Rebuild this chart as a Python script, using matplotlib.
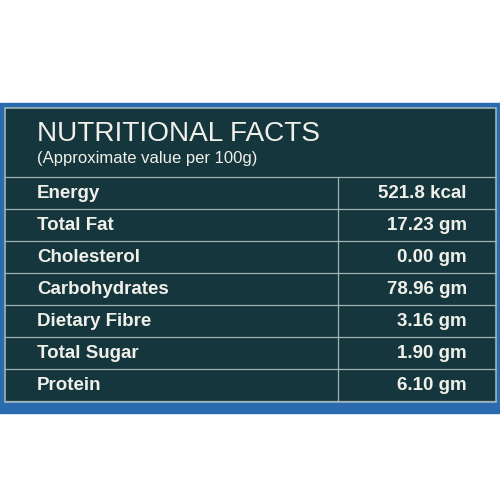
import matplotlib.pyplot as plt
from matplotlib.patches import Rectangle

plt.rcParams["font.family"] = ["Liberation Sans", "DejaVu Sans"]

TITLE = "NUTRITIONAL FACTS"
SUBTITLE = "(Approximate value per 100g)"
NUTRIENTS = ["Energy", "Total Fat", "Cholesterol", "Carbohydrates",
             "Dietary Fibre", "Total Sugar", "Protein"]
VALUES = ["521.8 kcal", "17.23 gm", "0.00 gm", "78.96 gm",
          "3.16 gm", "1.90 gm", "6.10 gm"]

BLUE = "#2a6bb0"
PANEL = "#15363c"
LINE = "#9fb4b4"
TEXT = "#f0f0ea"

fig = plt.figure(figsize=(5, 5), dpi=100)
ax = fig.add_axes([0, 0, 1, 1])
ax.set_xlim(0, 500)
ax.set_ylim(500, 0)
ax.axis("off")

ax.add_patch(Rectangle((0, 103), 500, 310, color=BLUE, zorder=0))
ax.add_patch(Rectangle((5, 108), 491, 294, facecolor=PANEL,
                       edgecolor=LINE, lw=1.2, zorder=1))

ax.text(37, 134, TITLE, color=TEXT, fontsize=20.2, va="center", ha="left")
ax.text(37, 158, SUBTITLE, color=TEXT, fontsize=12, va="center", ha="left")

top, step = 177, 32
for i in range(len(NUTRIENTS) + 1):
    y = top + i * step
    ax.plot([5, 496], [y, y], color=LINE, lw=0.9, zorder=2)
ax.plot([338, 338], [top, top + step * len(NUTRIENTS)], color=LINE, lw=0.9, zorder=2)

for i, (name, val) in enumerate(zip(NUTRIENTS, VALUES)):
    yc = top + step * (i + 0.5) + 1
    ax.text(37, yc, name, color=TEXT, fontsize=13.5, fontweight="bold",
            va="center", ha="left")
    ax.text(467, yc, val, color=TEXT, fontsize=13.5, fontweight="bold",
            va="center", ha="right")

fig.savefig("out.png", dpi=100, facecolor="white")
